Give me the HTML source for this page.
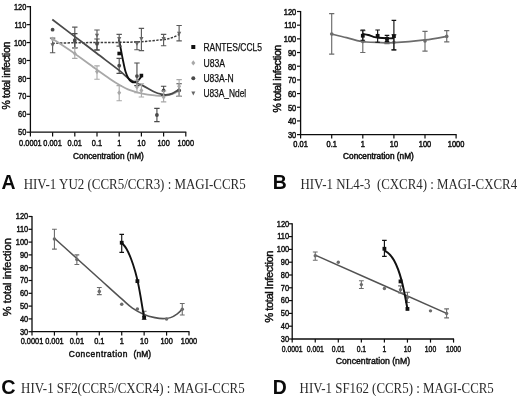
<!DOCTYPE html>
<html><head><meta charset="utf-8"><title>Figure</title>
<style>html,body{margin:0;padding:0;background:#fff;}svg{display:block;will-change:transform;filter:blur(0.35px);}</style></head>
<body><svg width="520" height="396" viewBox="0 0 520 396">
<rect width="520" height="396" fill="#fff"/>
<path d="M30.40 6.10 V132.20 H186.30" fill="none" stroke="#0c0c0c" stroke-width="1.3"/>
<path d="M26.60 6.70 H30.40" stroke="#0c0c0c" stroke-width="1.2"/>
<text transform="translate(26.30,9.80) scale(0.795,1)" font-size="9.3" text-anchor="end" font-weight="normal" fill="#111" stroke="#111" stroke-width="0.45" font-family="Liberation Sans, sans-serif">120</text>
<path d="M26.60 24.63 H30.40" stroke="#0c0c0c" stroke-width="1.2"/>
<text transform="translate(26.30,27.73) scale(0.795,1)" font-size="9.3" text-anchor="end" font-weight="normal" fill="#111" stroke="#111" stroke-width="0.45" font-family="Liberation Sans, sans-serif">110</text>
<path d="M26.60 42.56 H30.40" stroke="#0c0c0c" stroke-width="1.2"/>
<text transform="translate(26.30,45.66) scale(0.795,1)" font-size="9.3" text-anchor="end" font-weight="normal" fill="#111" stroke="#111" stroke-width="0.45" font-family="Liberation Sans, sans-serif">100</text>
<path d="M26.60 60.49 H30.40" stroke="#0c0c0c" stroke-width="1.2"/>
<text transform="translate(26.30,63.59) scale(0.795,1)" font-size="9.3" text-anchor="end" font-weight="normal" fill="#111" stroke="#111" stroke-width="0.45" font-family="Liberation Sans, sans-serif">90</text>
<path d="M26.60 78.41 H30.40" stroke="#0c0c0c" stroke-width="1.2"/>
<text transform="translate(26.30,81.51) scale(0.795,1)" font-size="9.3" text-anchor="end" font-weight="normal" fill="#111" stroke="#111" stroke-width="0.45" font-family="Liberation Sans, sans-serif">80</text>
<path d="M26.60 96.34 H30.40" stroke="#0c0c0c" stroke-width="1.2"/>
<text transform="translate(26.30,99.44) scale(0.795,1)" font-size="9.3" text-anchor="end" font-weight="normal" fill="#111" stroke="#111" stroke-width="0.45" font-family="Liberation Sans, sans-serif">70</text>
<path d="M26.60 114.27 H30.40" stroke="#0c0c0c" stroke-width="1.2"/>
<text transform="translate(26.30,117.37) scale(0.795,1)" font-size="9.3" text-anchor="end" font-weight="normal" fill="#111" stroke="#111" stroke-width="0.45" font-family="Liberation Sans, sans-serif">60</text>
<path d="M26.60 132.20 H30.40" stroke="#0c0c0c" stroke-width="1.2"/>
<text transform="translate(26.30,135.30) scale(0.795,1)" font-size="9.3" text-anchor="end" font-weight="normal" fill="#111" stroke="#111" stroke-width="0.45" font-family="Liberation Sans, sans-serif">50</text>
<path d="M30.40 132.20 V136.40" stroke="#0c0c0c" stroke-width="1.2"/>
<text transform="translate(30.40,145.70) scale(0.795,1)" font-size="9.3" text-anchor="middle" font-weight="normal" fill="#111" stroke="#111" stroke-width="0.45" font-family="Liberation Sans, sans-serif">0.0001</text>
<path d="M52.60 132.20 V136.40" stroke="#0c0c0c" stroke-width="1.2"/>
<text transform="translate(52.60,145.70) scale(0.795,1)" font-size="9.3" text-anchor="middle" font-weight="normal" fill="#111" stroke="#111" stroke-width="0.45" font-family="Liberation Sans, sans-serif">0.001</text>
<path d="M74.80 132.20 V136.40" stroke="#0c0c0c" stroke-width="1.2"/>
<text transform="translate(74.80,145.70) scale(0.795,1)" font-size="9.3" text-anchor="middle" font-weight="normal" fill="#111" stroke="#111" stroke-width="0.45" font-family="Liberation Sans, sans-serif">0.01</text>
<path d="M97.00 132.20 V136.40" stroke="#0c0c0c" stroke-width="1.2"/>
<text transform="translate(97.00,145.70) scale(0.795,1)" font-size="9.3" text-anchor="middle" font-weight="normal" fill="#111" stroke="#111" stroke-width="0.45" font-family="Liberation Sans, sans-serif">0.1</text>
<path d="M119.20 132.20 V136.40" stroke="#0c0c0c" stroke-width="1.2"/>
<text transform="translate(119.20,145.70) scale(0.795,1)" font-size="9.3" text-anchor="middle" font-weight="normal" fill="#111" stroke="#111" stroke-width="0.45" font-family="Liberation Sans, sans-serif">1</text>
<path d="M141.40 132.20 V136.40" stroke="#0c0c0c" stroke-width="1.2"/>
<text transform="translate(141.40,145.70) scale(0.795,1)" font-size="9.3" text-anchor="middle" font-weight="normal" fill="#111" stroke="#111" stroke-width="0.45" font-family="Liberation Sans, sans-serif">10</text>
<path d="M163.60 132.20 V136.40" stroke="#0c0c0c" stroke-width="1.2"/>
<text transform="translate(163.60,145.70) scale(0.795,1)" font-size="9.3" text-anchor="middle" font-weight="normal" fill="#111" stroke="#111" stroke-width="0.45" font-family="Liberation Sans, sans-serif">100</text>
<path d="M185.80 132.20 V136.40" stroke="#0c0c0c" stroke-width="1.2"/>
<text transform="translate(185.80,145.70) scale(0.795,1)" font-size="9.3" text-anchor="middle" font-weight="normal" fill="#111" stroke="#111" stroke-width="0.45" font-family="Liberation Sans, sans-serif">1000</text>
<text transform="translate(108.45,159.20) scale(0.985,1)" font-size="8.4" text-anchor="middle" font-weight="normal" fill="#111" stroke="#111" stroke-width="0.45" font-family="Liberation Sans, sans-serif">Concentration (nM)</text>
<text transform="translate(10.10,75.85) rotate(-90) scale(1.0,1)" font-size="10.5" text-anchor="middle" font-weight="normal" fill="#111" letter-spacing="-0.4" stroke="#111" stroke-width="0.45" font-family="Liberation Sans, sans-serif">% total infection</text>
<path d="M52.60 43.27 C56.30 43.18 67.40 42.86 74.80 42.74 C82.20 42.62 89.60 42.62 97.00 42.56 C104.40 42.50 111.80 42.53 119.20 42.38 C126.60 42.23 134.00 42.14 141.40 41.66 C148.80 41.18 158.43 40.20 163.60 39.51 C168.77 38.82 169.85 38.37 172.43 37.54 C175.02 36.70 178.00 35.00 179.12 34.49" fill="none" stroke="#3c3c3c" stroke-width="1.5" stroke-dasharray="2.4 1.3" stroke-linecap="butt"/>
<path d="M52.30 38.70 C56.00 41.17 67.10 48.35 74.50 53.50 C81.90 58.65 90.78 65.35 96.70 69.60 C102.62 73.85 106.25 76.47 110.00 79.00 C113.75 81.53 115.87 82.93 119.20 84.80 C122.53 86.67 126.15 88.73 130.00 90.20 C133.85 91.67 138.20 92.73 142.30 93.60 C146.40 94.47 151.03 95.02 154.60 95.40 C158.17 95.78 160.68 96.15 163.70 95.90 C166.72 95.65 170.10 94.82 172.70 93.90 C175.30 92.98 178.20 90.98 179.30 90.40" fill="none" stroke="#a8a8a8" stroke-width="1.8" stroke-linecap="butt"/>
<path d="M52.30 19.50 C56.00 22.32 67.10 30.77 74.50 36.40 C81.90 42.03 89.25 47.63 96.70 53.30 C104.15 58.97 113.65 66.03 119.20 70.40 C124.75 74.77 126.15 77.00 130.00 79.50 C133.85 82.00 138.20 83.32 142.30 85.40 C146.40 87.48 151.32 90.50 154.60 92.00 C157.88 93.50 160.10 93.92 162.00 94.40 C163.90 94.88 164.33 95.03 166.00 94.90 C167.67 94.77 169.78 94.52 172.00 93.60 C174.22 92.68 178.08 90.10 179.30 89.40" fill="none" stroke="#4a4a4a" stroke-width="1.8" stroke-linecap="butt"/>
<path d="M118.90 39.20 C119.22 40.83 120.12 45.45 120.80 49.00 C121.48 52.55 122.22 56.75 123.00 60.50 C123.78 64.25 124.58 68.50 125.50 71.50 C126.42 74.50 127.50 76.82 128.50 78.50 C129.50 80.18 130.48 80.95 131.50 81.60 C132.52 82.25 133.52 82.53 134.60 82.40 C135.68 82.27 136.88 81.75 138.00 80.80 C139.12 79.85 140.75 77.38 141.30 76.70" fill="none" stroke="#111" stroke-width="1.85" stroke-linecap="butt"/>
<path d="M52.60 38.07 V52.78 M49.90 38.07 H55.30 M49.90 52.78 H55.30" stroke="#5a5a5a" stroke-width="1.15" fill="none"/>
<path d="M50.50 43.36 H54.70 L52.60 47.56Z" fill="#666"/>
<path d="M74.80 27.14 V47.94 M72.10 27.14 H77.50 M72.10 47.94 H77.50" stroke="#5a5a5a" stroke-width="1.15" fill="none"/>
<path d="M72.70 38.87 H76.90 L74.80 43.07Z" fill="#666"/>
<path d="M97.00 30.01 V50.27 M94.30 30.01 H99.70 M94.30 50.27 H99.70" stroke="#5a5a5a" stroke-width="1.15" fill="none"/>
<path d="M94.90 33.67 H99.10 L97.00 37.87Z" fill="#666"/>
<path d="M119.20 34.31 V46.14 M116.50 34.31 H121.90 M116.50 46.14 H121.90" stroke="#5a5a5a" stroke-width="1.15" fill="none"/>
<path d="M117.10 37.08 H121.30 L119.20 41.28Z" fill="#666"/>
<path d="M136.95 41.66 V49.73 M134.25 41.66 H139.65 M134.25 49.73 H139.65" stroke="#5a5a5a" stroke-width="1.15" fill="none"/>
<path d="M134.85 41.92 H139.05 L136.95 46.12Z" fill="#666"/>
<path d="M141.40 28.39 V50.62 M138.70 28.39 H144.10 M138.70 50.62 H144.10" stroke="#5a5a5a" stroke-width="1.15" fill="none"/>
<path d="M139.30 37.08 H143.50 L141.40 41.28Z" fill="#666"/>
<path d="M163.60 34.31 V45.78 M160.90 34.31 H166.30 M160.90 45.78 H166.30" stroke="#5a5a5a" stroke-width="1.15" fill="none"/>
<path d="M161.50 37.08 H165.70 L163.60 41.28Z" fill="#666"/>
<path d="M179.12 25.52 V40.94 M176.42 25.52 H181.82 M176.42 40.94 H181.82" stroke="#5a5a5a" stroke-width="1.15" fill="none"/>
<path d="M177.02 31.70 H181.22 L179.12 35.90Z" fill="#666"/>
<circle cx="52.60" cy="29.65" r="1.90" fill="#4a4a4a"/>
<path d="M74.80 33.59 V47.76 M72.10 33.59 H77.50 M72.10 47.76 H77.50" stroke="#4a4a4a" stroke-width="1.1" fill="none"/>
<circle cx="74.80" cy="40.76" r="1.90" fill="#4a4a4a"/>
<path d="M97.00 38.97 V49.73 M94.30 38.97 H99.70 M94.30 49.73 H99.70" stroke="#4a4a4a" stroke-width="1.1" fill="none"/>
<circle cx="97.00" cy="43.63" r="1.90" fill="#4a4a4a"/>
<path d="M119.20 58.33 V73.39 M116.50 58.33 H121.90 M116.50 73.39 H121.90" stroke="#4a4a4a" stroke-width="1.1" fill="none"/>
<circle cx="119.20" cy="65.69" r="1.90" fill="#4a4a4a"/>
<path d="M136.95 63.00 V85.59 M134.25 63.00 H139.65 M134.25 85.59 H139.65" stroke="#4a4a4a" stroke-width="1.1" fill="none"/>
<circle cx="136.95" cy="76.08" r="1.90" fill="#4a4a4a"/>
<path d="M156.92 108.35 V121.62 M154.22 108.35 H159.62 M154.22 121.62 H159.62" stroke="#4a4a4a" stroke-width="1.1" fill="none"/>
<circle cx="156.92" cy="114.99" r="1.90" fill="#4a4a4a"/>
<path d="M163.60 86.30 V95.45 M160.90 86.30 H166.30 M160.90 95.45 H166.30" stroke="#4a4a4a" stroke-width="1.1" fill="none"/>
<circle cx="163.60" cy="90.43" r="1.90" fill="#4a4a4a"/>
<path d="M179.12 83.79 V96.34 M176.42 83.79 H181.82 M176.42 96.34 H181.82" stroke="#4a4a4a" stroke-width="1.1" fill="none"/>
<circle cx="179.12" cy="90.43" r="1.90" fill="#4a4a4a"/>
<path d="M52.60 36.55 L54.60 39.15 L52.60 41.75 L50.60 39.15Z" fill="#a8a8a8"/>
<path d="M74.80 47.76 V58.33 M72.10 47.76 H77.50 M72.10 58.33 H77.50" stroke="#a8a8a8" stroke-width="1.1" fill="none"/>
<path d="M74.80 50.89 L76.80 53.49 L74.80 56.09 L72.80 53.49Z" fill="#a8a8a8"/>
<path d="M97.00 65.86 V79.31 M94.30 65.86 H99.70 M94.30 79.31 H99.70" stroke="#a8a8a8" stroke-width="1.1" fill="none"/>
<path d="M97.00 69.00 L99.00 71.60 L97.00 74.20 L95.00 71.60Z" fill="#a8a8a8"/>
<path d="M119.20 85.59 V100.82 M116.50 85.59 H121.90 M116.50 100.82 H121.90" stroke="#a8a8a8" stroke-width="1.1" fill="none"/>
<path d="M119.20 90.16 L121.20 92.76 L119.20 95.36 L117.20 92.76Z" fill="#a8a8a8"/>
<path d="M136.95 80.21 V92.76 M134.25 80.21 H139.65 M134.25 92.76 H139.65" stroke="#a8a8a8" stroke-width="1.1" fill="none"/>
<path d="M136.95 84.42 L138.95 87.02 L136.95 89.62 L134.95 87.02Z" fill="#a8a8a8"/>
<path d="M141.40 83.79 V97.06 M138.70 83.79 H144.10 M138.70 97.06 H144.10" stroke="#a8a8a8" stroke-width="1.1" fill="none"/>
<path d="M141.40 87.83 L143.40 90.43 L141.40 93.03 L139.40 90.43Z" fill="#a8a8a8"/>
<path d="M163.60 90.96 V101.90 M160.90 90.96 H166.30 M160.90 101.90 H166.30" stroke="#a8a8a8" stroke-width="1.1" fill="none"/>
<path d="M163.60 94.46 L165.60 97.06 L163.60 99.66 L161.60 97.06Z" fill="#a8a8a8"/>
<path d="M179.12 79.67 V96.34 M176.42 79.67 H181.82 M176.42 96.34 H181.82" stroke="#a8a8a8" stroke-width="1.1" fill="none"/>
<path d="M179.12 83.70 L181.12 86.30 L179.12 88.90 L177.12 86.30Z" fill="#a8a8a8"/>
<rect x="117.40" y="51.69" width="3.60" height="3.60" fill="#111"/>
<rect x="139.60" y="73.75" width="3.60" height="3.60" fill="#111"/>
<rect x="191.30" y="45.00" width="4.00" height="4.00" fill="#111"/>
<text x="203.4" y="50.60" font-size="10.2" fill="#111" stroke="#111" stroke-width="0.25" textLength="58.6" lengthAdjust="spacingAndGlyphs" font-family="Liberation Sans, sans-serif">RANTES/CCL5</text>
<path d="M193.30 60.30 L195.30 62.90 L193.30 65.50 L191.30 62.90Z" fill="#a8a8a8"/>
<text x="203.4" y="66.50" font-size="10.2" fill="#111" stroke="#111" stroke-width="0.25" textLength="21.6" lengthAdjust="spacingAndGlyphs" font-family="Liberation Sans, sans-serif">U83A</text>
<circle cx="193.30" cy="78.30" r="2.00" fill="#4a4a4a"/>
<text x="203.4" y="81.90" font-size="10.2" fill="#111" stroke="#111" stroke-width="0.25" textLength="30.3" lengthAdjust="spacingAndGlyphs" font-family="Liberation Sans, sans-serif">U83A-N</text>
<path d="M191.30 91.50 H195.30 L193.30 95.50Z" fill="#666"/>
<text x="203.4" y="96.90" font-size="10.2" fill="#111" stroke="#111" stroke-width="0.25" textLength="42.8" lengthAdjust="spacingAndGlyphs" font-family="Liberation Sans, sans-serif">U83A_Ndel</text>
<path d="M300.60 10.90 V134.60 H456.60" fill="none" stroke="#0c0c0c" stroke-width="1.3"/>
<path d="M297.00 11.50 H300.60" stroke="#0c0c0c" stroke-width="1.2"/>
<text transform="translate(296.20,14.80) scale(0.84,1)" font-size="8.9" text-anchor="end" font-weight="normal" fill="#111" stroke="#111" stroke-width="0.5" font-family="Liberation Sans, sans-serif">120</text>
<path d="M297.00 25.18 H300.60" stroke="#0c0c0c" stroke-width="1.2"/>
<text transform="translate(296.20,28.48) scale(0.84,1)" font-size="8.9" text-anchor="end" font-weight="normal" fill="#111" stroke="#111" stroke-width="0.5" font-family="Liberation Sans, sans-serif">110</text>
<path d="M297.00 38.86 H300.60" stroke="#0c0c0c" stroke-width="1.2"/>
<text transform="translate(296.20,42.16) scale(0.84,1)" font-size="8.9" text-anchor="end" font-weight="normal" fill="#111" stroke="#111" stroke-width="0.5" font-family="Liberation Sans, sans-serif">100</text>
<path d="M297.00 52.53 H300.60" stroke="#0c0c0c" stroke-width="1.2"/>
<text transform="translate(296.20,55.83) scale(0.84,1)" font-size="8.9" text-anchor="end" font-weight="normal" fill="#111" stroke="#111" stroke-width="0.5" font-family="Liberation Sans, sans-serif">90</text>
<path d="M297.00 66.21 H300.60" stroke="#0c0c0c" stroke-width="1.2"/>
<text transform="translate(296.20,69.51) scale(0.84,1)" font-size="8.9" text-anchor="end" font-weight="normal" fill="#111" stroke="#111" stroke-width="0.5" font-family="Liberation Sans, sans-serif">80</text>
<path d="M297.00 79.89 H300.60" stroke="#0c0c0c" stroke-width="1.2"/>
<text transform="translate(296.20,83.19) scale(0.84,1)" font-size="8.9" text-anchor="end" font-weight="normal" fill="#111" stroke="#111" stroke-width="0.5" font-family="Liberation Sans, sans-serif">70</text>
<path d="M297.00 93.57 H300.60" stroke="#0c0c0c" stroke-width="1.2"/>
<text transform="translate(296.20,96.87) scale(0.84,1)" font-size="8.9" text-anchor="end" font-weight="normal" fill="#111" stroke="#111" stroke-width="0.5" font-family="Liberation Sans, sans-serif">60</text>
<path d="M297.00 107.24 H300.60" stroke="#0c0c0c" stroke-width="1.2"/>
<text transform="translate(296.20,110.54) scale(0.84,1)" font-size="8.9" text-anchor="end" font-weight="normal" fill="#111" stroke="#111" stroke-width="0.5" font-family="Liberation Sans, sans-serif">50</text>
<path d="M297.00 120.92 H300.60" stroke="#0c0c0c" stroke-width="1.2"/>
<text transform="translate(296.20,124.22) scale(0.84,1)" font-size="8.9" text-anchor="end" font-weight="normal" fill="#111" stroke="#111" stroke-width="0.5" font-family="Liberation Sans, sans-serif">40</text>
<path d="M297.00 134.60 H300.60" stroke="#0c0c0c" stroke-width="1.2"/>
<text transform="translate(296.20,137.90) scale(0.84,1)" font-size="8.9" text-anchor="end" font-weight="normal" fill="#111" stroke="#111" stroke-width="0.5" font-family="Liberation Sans, sans-serif">30</text>
<path d="M300.60 134.60 V138.60" stroke="#0c0c0c" stroke-width="1.2"/>
<text transform="translate(300.60,146.60) scale(0.84,1)" font-size="8.9" text-anchor="middle" font-weight="normal" fill="#111" stroke="#111" stroke-width="0.5" font-family="Liberation Sans, sans-serif">0.01</text>
<path d="M331.70 134.60 V138.60" stroke="#0c0c0c" stroke-width="1.2"/>
<text transform="translate(331.70,146.60) scale(0.84,1)" font-size="8.9" text-anchor="middle" font-weight="normal" fill="#111" stroke="#111" stroke-width="0.5" font-family="Liberation Sans, sans-serif">0.1</text>
<path d="M362.80 134.60 V138.60" stroke="#0c0c0c" stroke-width="1.2"/>
<text transform="translate(362.80,146.60) scale(0.84,1)" font-size="8.9" text-anchor="middle" font-weight="normal" fill="#111" stroke="#111" stroke-width="0.5" font-family="Liberation Sans, sans-serif">1</text>
<path d="M393.90 134.60 V138.60" stroke="#0c0c0c" stroke-width="1.2"/>
<text transform="translate(393.90,146.60) scale(0.84,1)" font-size="8.9" text-anchor="middle" font-weight="normal" fill="#111" stroke="#111" stroke-width="0.5" font-family="Liberation Sans, sans-serif">10</text>
<path d="M425.00 134.60 V138.60" stroke="#0c0c0c" stroke-width="1.2"/>
<text transform="translate(425.00,146.60) scale(0.84,1)" font-size="8.9" text-anchor="middle" font-weight="normal" fill="#111" stroke="#111" stroke-width="0.5" font-family="Liberation Sans, sans-serif">100</text>
<path d="M456.10 134.60 V138.60" stroke="#0c0c0c" stroke-width="1.2"/>
<text transform="translate(456.10,146.60) scale(0.84,1)" font-size="8.9" text-anchor="middle" font-weight="normal" fill="#111" stroke="#111" stroke-width="0.5" font-family="Liberation Sans, sans-serif">1000</text>
<text transform="translate(378.45,158.90) scale(0.985,1)" font-size="8.4" text-anchor="middle" font-weight="normal" fill="#111" stroke="#111" stroke-width="0.5" font-family="Liberation Sans, sans-serif">Concentration (nM)</text>
<text transform="translate(281.10,78.90) rotate(-90) scale(1.0,1)" font-size="10.5" text-anchor="middle" font-weight="normal" fill="#111" letter-spacing="-0.4" stroke="#111" stroke-width="0.5" font-family="Liberation Sans, sans-serif">% total infection</text>
<path d="M331.70 34.07 C334.17 34.66 341.86 36.44 346.54 37.62 C351.22 38.81 356.49 40.45 359.79 41.18 C363.09 41.91 363.37 41.80 366.34 42.00 C369.32 42.21 373.05 42.30 377.64 42.41 C382.23 42.53 386.01 43.10 393.90 42.69 C401.79 42.27 416.19 41.00 425.00 39.95 C433.81 38.90 443.11 36.99 446.74 36.39" fill="none" stroke="#6c6c6c" stroke-width="1.7" stroke-linecap="butt"/>
<path d="M331.70 13.55 V54.17 M329.10 13.55 H334.30 M329.10 54.17 H334.30" stroke="#6c6c6c" stroke-width="1.15" fill="none"/>
<circle cx="331.70" cy="34.07" r="1.80" fill="#6c6c6c"/>
<path d="M362.80 30.65 V52.53 M360.20 30.65 H365.40 M360.20 52.53 H365.40" stroke="#6c6c6c" stroke-width="1.15" fill="none"/>
<circle cx="362.80" cy="41.59" r="1.80" fill="#6c6c6c"/>
<path d="M387.00 38.17 V43.64 M384.40 38.17 H389.60 M384.40 43.64 H389.60" stroke="#6c6c6c" stroke-width="1.15" fill="none"/>
<circle cx="387.00" cy="41.59" r="1.80" fill="#6c6c6c"/>
<path d="M393.90 34.75 V49.80 M391.30 34.75 H396.50 M391.30 49.80 H396.50" stroke="#6c6c6c" stroke-width="1.15" fill="none"/>
<circle cx="393.90" cy="42.27" r="1.80" fill="#6c6c6c"/>
<path d="M425.00 31.33 V51.17 M422.40 31.33 H427.60 M422.40 51.17 H427.60" stroke="#6c6c6c" stroke-width="1.15" fill="none"/>
<circle cx="425.00" cy="40.91" r="1.80" fill="#6c6c6c"/>
<path d="M446.74 30.65 V41.86 M444.14 30.65 H449.34 M444.14 41.86 H449.34" stroke="#6c6c6c" stroke-width="1.15" fill="none"/>
<circle cx="446.74" cy="36.39" r="1.80" fill="#6c6c6c"/>
<path d="M362.80 33.93 C363.71 34.11 366.50 34.55 368.28 35.03 C370.05 35.50 371.74 36.35 373.45 36.80 C375.15 37.26 376.25 37.51 378.51 37.76 C380.77 38.01 384.44 38.22 387.00 38.31 C389.57 38.40 392.75 38.31 393.90 38.31" fill="none" stroke="#111" stroke-width="1.9" stroke-linecap="butt"/>
<path d="M362.80 29.96 V40.22 M360.50 29.96 H365.10 M360.50 40.22 H365.10" stroke="#111" stroke-width="1.15" fill="none"/>
<rect x="360.90" y="33.81" width="3.80" height="3.80" fill="#111"/>
<path d="M377.64 29.96 V42.27 M375.34 29.96 H379.94 M375.34 42.27 H379.94" stroke="#111" stroke-width="1.15" fill="none"/>
<rect x="375.74" y="33.95" width="3.80" height="3.80" fill="#111"/>
<path d="M387.00 35.44 V41.59 M384.70 35.44 H389.30 M384.70 41.59 H389.30" stroke="#111" stroke-width="1.15" fill="none"/>
<rect x="385.10" y="36.96" width="3.80" height="3.80" fill="#111"/>
<path d="M393.90 20.39 V49.80 M391.60 20.39 H396.20 M391.60 49.80 H396.20" stroke="#111" stroke-width="1.15" fill="none"/>
<rect x="392.00" y="34.22" width="3.80" height="3.80" fill="#111"/>
<path d="M32.00 215.90 V331.70 H189.51" fill="none" stroke="#0c0c0c" stroke-width="1.3"/>
<path d="M28.50 216.50 H32.00" stroke="#0c0c0c" stroke-width="1.2"/>
<text transform="translate(28.20,219.30) scale(0.86,1)" font-size="8.6" text-anchor="end" font-weight="normal" fill="#111" stroke="#111" stroke-width="0.45" font-family="Liberation Sans, sans-serif">120</text>
<path d="M28.50 229.30 H32.00" stroke="#0c0c0c" stroke-width="1.2"/>
<text transform="translate(28.20,232.10) scale(0.86,1)" font-size="8.6" text-anchor="end" font-weight="normal" fill="#111" stroke="#111" stroke-width="0.45" font-family="Liberation Sans, sans-serif">110</text>
<path d="M28.50 242.10 H32.00" stroke="#0c0c0c" stroke-width="1.2"/>
<text transform="translate(28.20,244.90) scale(0.86,1)" font-size="8.6" text-anchor="end" font-weight="normal" fill="#111" stroke="#111" stroke-width="0.45" font-family="Liberation Sans, sans-serif">100</text>
<path d="M28.50 254.90 H32.00" stroke="#0c0c0c" stroke-width="1.2"/>
<text transform="translate(28.20,257.70) scale(0.86,1)" font-size="8.6" text-anchor="end" font-weight="normal" fill="#111" stroke="#111" stroke-width="0.45" font-family="Liberation Sans, sans-serif">90</text>
<path d="M28.50 267.70 H32.00" stroke="#0c0c0c" stroke-width="1.2"/>
<text transform="translate(28.20,270.50) scale(0.86,1)" font-size="8.6" text-anchor="end" font-weight="normal" fill="#111" stroke="#111" stroke-width="0.45" font-family="Liberation Sans, sans-serif">80</text>
<path d="M28.50 280.50 H32.00" stroke="#0c0c0c" stroke-width="1.2"/>
<text transform="translate(28.20,283.30) scale(0.86,1)" font-size="8.6" text-anchor="end" font-weight="normal" fill="#111" stroke="#111" stroke-width="0.45" font-family="Liberation Sans, sans-serif">70</text>
<path d="M28.50 293.30 H32.00" stroke="#0c0c0c" stroke-width="1.2"/>
<text transform="translate(28.20,296.10) scale(0.86,1)" font-size="8.6" text-anchor="end" font-weight="normal" fill="#111" stroke="#111" stroke-width="0.45" font-family="Liberation Sans, sans-serif">60</text>
<path d="M28.50 306.10 H32.00" stroke="#0c0c0c" stroke-width="1.2"/>
<text transform="translate(28.20,308.90) scale(0.86,1)" font-size="8.6" text-anchor="end" font-weight="normal" fill="#111" stroke="#111" stroke-width="0.45" font-family="Liberation Sans, sans-serif">50</text>
<path d="M28.50 318.90 H32.00" stroke="#0c0c0c" stroke-width="1.2"/>
<text transform="translate(28.20,321.70) scale(0.86,1)" font-size="8.6" text-anchor="end" font-weight="normal" fill="#111" stroke="#111" stroke-width="0.45" font-family="Liberation Sans, sans-serif">40</text>
<path d="M28.50 331.70 H32.00" stroke="#0c0c0c" stroke-width="1.2"/>
<text transform="translate(28.20,334.50) scale(0.86,1)" font-size="8.6" text-anchor="end" font-weight="normal" fill="#111" stroke="#111" stroke-width="0.45" font-family="Liberation Sans, sans-serif">30</text>
<path d="M32.00 331.70 V335.60" stroke="#0c0c0c" stroke-width="1.2"/>
<text transform="translate(32.00,343.50) scale(0.86,1)" font-size="8.6" text-anchor="middle" font-weight="normal" fill="#111" stroke="#111" stroke-width="0.45" font-family="Liberation Sans, sans-serif">0.0001</text>
<path d="M54.43 331.70 V335.60" stroke="#0c0c0c" stroke-width="1.2"/>
<text transform="translate(54.43,343.50) scale(0.86,1)" font-size="8.6" text-anchor="middle" font-weight="normal" fill="#111" stroke="#111" stroke-width="0.45" font-family="Liberation Sans, sans-serif">0.001</text>
<path d="M76.86 331.70 V335.60" stroke="#0c0c0c" stroke-width="1.2"/>
<text transform="translate(76.86,343.50) scale(0.86,1)" font-size="8.6" text-anchor="middle" font-weight="normal" fill="#111" stroke="#111" stroke-width="0.45" font-family="Liberation Sans, sans-serif">0.01</text>
<path d="M99.29 331.70 V335.60" stroke="#0c0c0c" stroke-width="1.2"/>
<text transform="translate(99.29,343.50) scale(0.86,1)" font-size="8.6" text-anchor="middle" font-weight="normal" fill="#111" stroke="#111" stroke-width="0.45" font-family="Liberation Sans, sans-serif">0.1</text>
<path d="M121.72 331.70 V335.60" stroke="#0c0c0c" stroke-width="1.2"/>
<text transform="translate(121.72,343.50) scale(0.86,1)" font-size="8.6" text-anchor="middle" font-weight="normal" fill="#111" stroke="#111" stroke-width="0.45" font-family="Liberation Sans, sans-serif">1</text>
<path d="M144.15 331.70 V335.60" stroke="#0c0c0c" stroke-width="1.2"/>
<text transform="translate(144.15,343.50) scale(0.86,1)" font-size="8.6" text-anchor="middle" font-weight="normal" fill="#111" stroke="#111" stroke-width="0.45" font-family="Liberation Sans, sans-serif">10</text>
<path d="M166.58 331.70 V335.60" stroke="#0c0c0c" stroke-width="1.2"/>
<text transform="translate(166.58,343.50) scale(0.86,1)" font-size="8.6" text-anchor="middle" font-weight="normal" fill="#111" stroke="#111" stroke-width="0.45" font-family="Liberation Sans, sans-serif">100</text>
<path d="M189.01 331.70 V335.60" stroke="#0c0c0c" stroke-width="1.2"/>
<text transform="translate(189.01,343.50) scale(0.86,1)" font-size="8.6" text-anchor="middle" font-weight="normal" fill="#111" stroke="#111" stroke-width="0.45" font-family="Liberation Sans, sans-serif">1000</text>
<text transform="translate(11.30,277.20) rotate(-90) scale(1.0,1)" font-size="11" text-anchor="middle" font-weight="normal" fill="#111" letter-spacing="0.02" stroke="#111" stroke-width="0.45" font-family="Liberation Sans, sans-serif">% total infection</text>
<text x="68.8" y="357.1" font-size="8.4" fill="#111" stroke="#111" stroke-width="0.45" textLength="58.6" lengthAdjust="spacing" font-family="Liberation Sans, sans-serif">Concentration</text>
<text x="133.6" y="357.1" font-size="8.4" fill="#111" stroke="#111" stroke-width="0.45" textLength="17.4" lengthAdjust="spacing" font-family="Liberation Sans, sans-serif">(nM)</text>
<path d="M54.43 238.26 C58.17 241.63 69.38 251.74 76.86 258.48 C84.34 265.23 91.81 271.97 99.29 278.71 C106.77 285.45 116.20 294.05 121.72 298.93 C127.24 303.82 128.68 305.44 132.42 308.02 C136.16 310.60 140.41 312.82 144.15 314.42 C147.89 316.02 151.69 316.92 154.85 317.62 C158.01 318.32 160.49 318.64 163.11 318.64 C165.72 318.64 168.17 318.43 170.53 317.62 C172.89 316.81 175.33 315.17 177.28 313.78 C179.24 312.39 181.43 310.05 182.26 309.30" fill="none" stroke="#525252" stroke-width="1.55" stroke-linecap="butt"/>
<path d="M54.43 229.30 V249.14 M52.03 229.30 H56.83 M52.03 249.14 H56.83" stroke="#6c6c6c" stroke-width="1.1" fill="none"/>
<circle cx="54.43" cy="238.90" r="1.75" fill="#6c6c6c"/>
<path d="M76.86 254.90 V264.50 M74.46 254.90 H79.26 M74.46 264.50 H79.26" stroke="#6c6c6c" stroke-width="1.1" fill="none"/>
<circle cx="76.86" cy="259.38" r="1.75" fill="#6c6c6c"/>
<path d="M99.29 287.54 V294.58 M96.89 287.54 H101.69 M96.89 294.58 H101.69" stroke="#6c6c6c" stroke-width="1.1" fill="none"/>
<circle cx="99.29" cy="291.38" r="1.75" fill="#6c6c6c"/>
<circle cx="121.72" cy="304.18" r="1.75" fill="#6c6c6c"/>
<circle cx="137.40" cy="308.92" r="1.75" fill="#6c6c6c"/>
<path d="M144.15 311.22 V319.54 M141.75 311.22 H146.55 M141.75 319.54 H146.55" stroke="#6c6c6c" stroke-width="1.1" fill="none"/>
<circle cx="144.15" cy="316.34" r="1.75" fill="#6c6c6c"/>
<circle cx="166.58" cy="318.90" r="1.75" fill="#6c6c6c"/>
<path d="M182.26 303.54 V315.06 M179.86 303.54 H184.66 M179.86 315.06 H184.66" stroke="#6c6c6c" stroke-width="1.1" fill="none"/>
<circle cx="182.26" cy="309.30" r="1.75" fill="#6c6c6c"/>
<path d="M121.72 242.74 C122.48 243.70 124.75 245.83 126.30 248.50 C127.85 251.17 129.54 254.90 131.03 258.74 C132.52 262.58 134.01 267.27 135.22 271.54 C136.44 275.81 137.42 280.07 138.33 284.34 C139.23 288.61 139.97 293.09 140.68 297.14 C141.38 301.19 141.99 305.14 142.57 308.66 C143.15 312.18 143.89 316.66 144.15 318.26" fill="none" stroke="#111" stroke-width="1.9" stroke-linecap="butt"/>
<path d="M121.72 234.42 V252.34 M119.42 234.42 H124.02 M119.42 252.34 H124.02" stroke="#111" stroke-width="1.15" fill="none"/>
<rect x="119.82" y="240.84" width="3.80" height="3.80" fill="#111"/>
<rect x="135.50" y="279.24" width="3.80" height="3.80" fill="#111"/>
<rect x="142.25" y="315.72" width="3.80" height="3.80" fill="#111"/>
<path d="M292.20 223.20 V339.00 H454.05" fill="none" stroke="#0c0c0c" stroke-width="1.3"/>
<path d="M289.00 223.80 H292.20" stroke="#0c0c0c" stroke-width="1.2"/>
<text transform="translate(289.20,226.60) scale(0.86,1)" font-size="8.7" text-anchor="end" font-weight="normal" fill="#111" stroke="#111" stroke-width="0.45" font-family="Liberation Sans, sans-serif">120</text>
<path d="M289.00 236.60 H292.20" stroke="#0c0c0c" stroke-width="1.2"/>
<text transform="translate(289.20,239.40) scale(0.86,1)" font-size="8.7" text-anchor="end" font-weight="normal" fill="#111" stroke="#111" stroke-width="0.45" font-family="Liberation Sans, sans-serif">110</text>
<path d="M289.00 249.40 H292.20" stroke="#0c0c0c" stroke-width="1.2"/>
<text transform="translate(289.20,252.20) scale(0.86,1)" font-size="8.7" text-anchor="end" font-weight="normal" fill="#111" stroke="#111" stroke-width="0.45" font-family="Liberation Sans, sans-serif">100</text>
<path d="M289.00 262.20 H292.20" stroke="#0c0c0c" stroke-width="1.2"/>
<text transform="translate(289.20,265.00) scale(0.86,1)" font-size="8.7" text-anchor="end" font-weight="normal" fill="#111" stroke="#111" stroke-width="0.45" font-family="Liberation Sans, sans-serif">90</text>
<path d="M289.00 275.00 H292.20" stroke="#0c0c0c" stroke-width="1.2"/>
<text transform="translate(289.20,277.80) scale(0.86,1)" font-size="8.7" text-anchor="end" font-weight="normal" fill="#111" stroke="#111" stroke-width="0.45" font-family="Liberation Sans, sans-serif">80</text>
<path d="M289.00 287.80 H292.20" stroke="#0c0c0c" stroke-width="1.2"/>
<text transform="translate(289.20,290.60) scale(0.86,1)" font-size="8.7" text-anchor="end" font-weight="normal" fill="#111" stroke="#111" stroke-width="0.45" font-family="Liberation Sans, sans-serif">70</text>
<path d="M289.00 300.60 H292.20" stroke="#0c0c0c" stroke-width="1.2"/>
<text transform="translate(289.20,303.40) scale(0.86,1)" font-size="8.7" text-anchor="end" font-weight="normal" fill="#111" stroke="#111" stroke-width="0.45" font-family="Liberation Sans, sans-serif">60</text>
<path d="M289.00 313.40 H292.20" stroke="#0c0c0c" stroke-width="1.2"/>
<text transform="translate(289.20,316.20) scale(0.86,1)" font-size="8.7" text-anchor="end" font-weight="normal" fill="#111" stroke="#111" stroke-width="0.45" font-family="Liberation Sans, sans-serif">50</text>
<path d="M289.00 326.20 H292.20" stroke="#0c0c0c" stroke-width="1.2"/>
<text transform="translate(289.20,329.00) scale(0.86,1)" font-size="8.7" text-anchor="end" font-weight="normal" fill="#111" stroke="#111" stroke-width="0.45" font-family="Liberation Sans, sans-serif">40</text>
<path d="M289.00 339.00 H292.20" stroke="#0c0c0c" stroke-width="1.2"/>
<text transform="translate(289.20,341.80) scale(0.86,1)" font-size="8.7" text-anchor="end" font-weight="normal" fill="#111" stroke="#111" stroke-width="0.45" font-family="Liberation Sans, sans-serif">30</text>
<path d="M292.20 339.00 V342.60" stroke="#0c0c0c" stroke-width="1.2"/>
<text transform="translate(292.20,351.60) scale(0.78,1)" font-size="8.7" text-anchor="middle" font-weight="normal" fill="#111" stroke="#111" stroke-width="0.45" font-family="Liberation Sans, sans-serif">0.0001</text>
<path d="M315.25 339.00 V342.60" stroke="#0c0c0c" stroke-width="1.2"/>
<text transform="translate(315.25,351.60) scale(0.78,1)" font-size="8.7" text-anchor="middle" font-weight="normal" fill="#111" stroke="#111" stroke-width="0.45" font-family="Liberation Sans, sans-serif">0.001</text>
<path d="M338.30 339.00 V342.60" stroke="#0c0c0c" stroke-width="1.2"/>
<text transform="translate(338.30,351.60) scale(0.78,1)" font-size="8.7" text-anchor="middle" font-weight="normal" fill="#111" stroke="#111" stroke-width="0.45" font-family="Liberation Sans, sans-serif">0.01</text>
<path d="M361.35 339.00 V342.60" stroke="#0c0c0c" stroke-width="1.2"/>
<text transform="translate(361.35,351.60) scale(0.78,1)" font-size="8.7" text-anchor="middle" font-weight="normal" fill="#111" stroke="#111" stroke-width="0.45" font-family="Liberation Sans, sans-serif">0.1</text>
<path d="M384.40 339.00 V342.60" stroke="#0c0c0c" stroke-width="1.2"/>
<text transform="translate(384.40,351.60) scale(0.78,1)" font-size="8.7" text-anchor="middle" font-weight="normal" fill="#111" stroke="#111" stroke-width="0.45" font-family="Liberation Sans, sans-serif">1</text>
<path d="M407.45 339.00 V342.60" stroke="#0c0c0c" stroke-width="1.2"/>
<text transform="translate(407.45,351.60) scale(0.78,1)" font-size="8.7" text-anchor="middle" font-weight="normal" fill="#111" stroke="#111" stroke-width="0.45" font-family="Liberation Sans, sans-serif">10</text>
<path d="M430.50 339.00 V342.60" stroke="#0c0c0c" stroke-width="1.2"/>
<text transform="translate(430.50,351.60) scale(0.78,1)" font-size="8.7" text-anchor="middle" font-weight="normal" fill="#111" stroke="#111" stroke-width="0.45" font-family="Liberation Sans, sans-serif">100</text>
<path d="M453.55 339.00 V342.60" stroke="#0c0c0c" stroke-width="1.2"/>
<text transform="translate(453.55,351.60) scale(0.78,1)" font-size="8.7" text-anchor="middle" font-weight="normal" fill="#111" stroke="#111" stroke-width="0.45" font-family="Liberation Sans, sans-serif">1000</text>
<text transform="translate(372.90,364.30) scale(0.945,1)" font-size="9.2" text-anchor="middle" font-weight="normal" fill="#111" stroke="#111" stroke-width="0.45" font-family="Liberation Sans, sans-serif">Concentration (nM)</text>
<text transform="translate(273.10,286.90) rotate(-90) scale(1.0,1)" font-size="11.3" text-anchor="middle" font-weight="normal" fill="#111" letter-spacing="-0.5" stroke="#111" stroke-width="0.45" font-family="Liberation Sans, sans-serif">% total Infection</text>
<path d="M315.25 255.16 C337.14 264.87 424.72 303.69 446.61 313.40" fill="none" stroke="#525252" stroke-width="1.55" stroke-linecap="butt"/>
<path d="M315.25 251.96 V260.28 M312.85 251.96 H317.65 M312.85 260.28 H317.65" stroke="#6c6c6c" stroke-width="1.1" fill="none"/>
<circle cx="315.25" cy="255.80" r="1.70" fill="#6c6c6c"/>
<circle cx="338.30" cy="262.20" r="1.70" fill="#6c6c6c"/>
<path d="M361.35 280.76 V288.44 M358.95 280.76 H363.75 M358.95 288.44 H363.75" stroke="#6c6c6c" stroke-width="1.1" fill="none"/>
<circle cx="361.35" cy="284.60" r="1.70" fill="#6c6c6c"/>
<circle cx="384.40" cy="288.44" r="1.70" fill="#6c6c6c"/>
<path d="M400.51 285.88 V292.92 M398.11 285.88 H402.91 M398.11 292.92 H402.91" stroke="#6c6c6c" stroke-width="1.1" fill="none"/>
<circle cx="400.51" cy="289.72" r="1.70" fill="#6c6c6c"/>
<path d="M407.45 292.28 V302.52 M405.05 292.28 H409.85 M405.05 302.52 H409.85" stroke="#6c6c6c" stroke-width="1.1" fill="none"/>
<circle cx="407.45" cy="297.40" r="1.70" fill="#6c6c6c"/>
<circle cx="430.50" cy="310.84" r="1.70" fill="#6c6c6c"/>
<path d="M446.61 308.92 V317.88 M444.21 308.92 H449.01 M444.21 317.88 H449.01" stroke="#6c6c6c" stroke-width="1.1" fill="none"/>
<circle cx="446.61" cy="313.40" r="1.70" fill="#6c6c6c"/>
<path d="M384.40 250.68 C385.18 251.21 387.51 252.28 389.10 253.88 C390.70 255.48 392.44 257.61 393.97 260.28 C395.49 262.95 397.03 266.57 398.28 269.88 C399.53 273.19 400.53 276.71 401.47 280.12 C402.40 283.53 403.15 287.05 403.88 290.36 C404.61 293.67 405.23 296.87 405.82 299.96 C406.42 303.05 407.18 307.43 407.45 308.92" fill="none" stroke="#111" stroke-width="2.0" stroke-linecap="butt"/>
<path d="M384.40 240.44 V256.44 M382.10 240.44 H386.70 M382.10 256.44 H386.70" stroke="#111" stroke-width="1.15" fill="none"/>
<rect x="382.50" y="246.86" width="3.80" height="3.80" fill="#111"/>
<rect x="398.61" y="279.50" width="3.80" height="3.80" fill="#111"/>
<rect x="405.55" y="307.02" width="3.80" height="3.80" fill="#111"/>
<text transform="translate(1.4,188.9) scale(1.0,1)" font-size="19.4" font-weight="bold" fill="#0a0a0a" font-family="Liberation Sans, sans-serif">A</text>
<text x="23.7" y="188.5" font-size="14.0" fill="#2a2a2a" textLength="222" lengthAdjust="spacingAndGlyphs" font-family="Liberation Serif, serif">HIV-1 YU2 (CCR5/CCR3) : MAGI-CCR5</text>
<text transform="translate(272.7,188.9) scale(1.0,1)" font-size="19.4" font-weight="bold" fill="#0a0a0a" font-family="Liberation Sans, sans-serif">B</text>
<text x="300.5" y="188.5" font-size="14.0" fill="#2a2a2a" textLength="216.6" lengthAdjust="spacingAndGlyphs" font-family="Liberation Serif, serif">HIV-1 NL4-3&#160;&#160;(CXCR4) : MAGI-CXCR4</text>
<text transform="translate(1.2,393.5) scale(1.0,1)" font-size="19.8" font-weight="bold" fill="#0a0a0a" font-family="Liberation Sans, sans-serif">C</text>
<text x="21.1" y="392.5" font-size="14.0" fill="#2a2a2a" textLength="223.5" lengthAdjust="spacingAndGlyphs" font-family="Liberation Serif, serif">HIV-1 SF2(CCR5/CXCR4) : MAGI-CCR5</text>
<text transform="translate(272.7,394.1) scale(1.0,1)" font-size="19.4" font-weight="bold" fill="#0a0a0a" font-family="Liberation Sans, sans-serif">D</text>
<text x="299.6" y="392.8" font-size="14.0" fill="#2a2a2a" textLength="194.2" lengthAdjust="spacingAndGlyphs" font-family="Liberation Serif, serif">HIV-1 SF162 (CCR5) : MAGI-CCR5</text>
</svg></body></html>
